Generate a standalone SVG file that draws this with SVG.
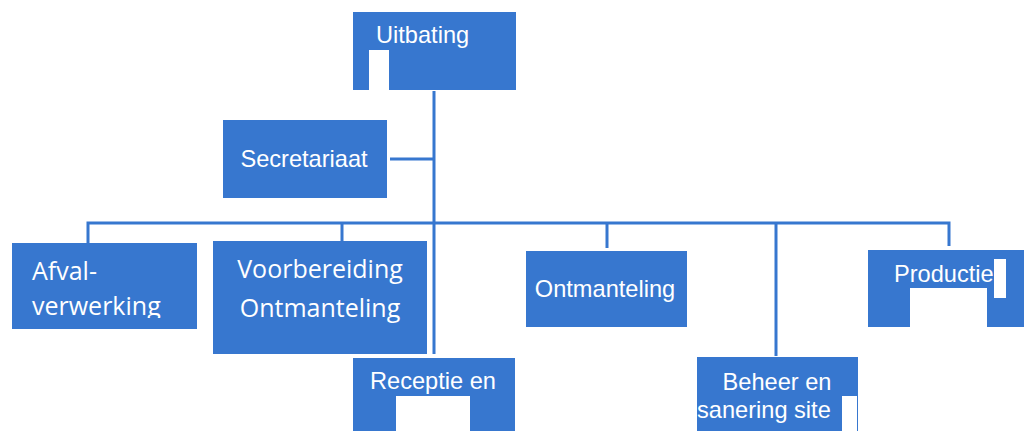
<svg xmlns="http://www.w3.org/2000/svg" width="1024" height="431" viewBox="0 0 1024 431">
<style>
.box{fill:#3777cf}
.hole{fill:#ffffff}
.t{fill:#ffffff;font-family:"Liberation Sans",Arial,sans-serif;font-size:23.6px}
.t2{fill:#ffffff;font-family:"Open Sans","Noto Sans",sans-serif;font-size:25px}
.ln{stroke:#3777cf;stroke-width:3;fill:none}
</style>
<defs>
<clipPath id="clipAfval"><rect x="12" y="243" width="185" height="75"/></clipPath>
</defs>
<g id="connectors">
<line class="ln" x1="434" y1="91" x2="434" y2="354"/>
<line class="ln" x1="390" y1="159" x2="434" y2="159"/>
<polyline class="ln" points="88,244 88,223 949,223 949,246"/>
<line class="ln" x1="342" y1="223" x2="342" y2="241"/>
<line class="ln" x1="607" y1="223" x2="607" y2="248"/>
<line class="ln" x1="776" y1="223" x2="776" y2="356"/>
</g>
<g id="uitbating">
<rect class="box" x="353" y="12" width="163" height="78"/>
<rect class="hole" x="369" y="50" width="20" height="40"/>
<text class="t" x="376" y="43">Uitbating</text>
</g>
<g id="secretariaat">
<rect class="box" x="223" y="120" width="164" height="78"/>
<text class="t" x="304" y="167" text-anchor="middle">Secretariaat</text>
</g>
<g id="afval">
<rect class="box" x="12" y="243" width="185" height="86"/>
<g clip-path="url(#clipAfval)">
<text class="t2" x="32" y="280">Afval-</text>
<text class="t2" x="32" y="315">verwerking</text>
</g>
</g>
<g id="voorbereiding">
<rect class="box" x="213" y="241" width="214" height="113"/>
<text class="t2" x="320" y="278" text-anchor="middle">Voorbereiding</text>
<text class="t2" x="320" y="317" text-anchor="middle">Ontmanteling</text>
</g>
<g id="ontmanteling">
<rect class="box" x="526" y="251" width="161" height="76"/>
<text class="t" x="605" y="297" text-anchor="middle">Ontmanteling</text>
</g>
<g id="productie">
<rect class="box" x="868" y="250" width="156" height="77"/>
<rect class="hole" x="910" y="288" width="77" height="39"/>
<text class="t" x="894" y="282">Productie</text>
<rect class="hole" x="994" y="259" width="12" height="39"/>
</g>
<g id="receptie">
<rect class="box" x="353" y="358" width="162" height="73"/>
<rect class="hole" x="396" y="396" width="74" height="35"/>
<text class="t" x="370" y="389">Receptie en</text>
</g>
<g id="beheer">
<rect class="box" x="697" y="357" width="161" height="74"/>
<rect class="hole" x="842" y="396" width="15" height="35"/>
<text class="t" x="777" y="390" text-anchor="middle">Beheer en</text>
<text class="t" x="697" y="418">sanering site</text>
</g>
</svg>
